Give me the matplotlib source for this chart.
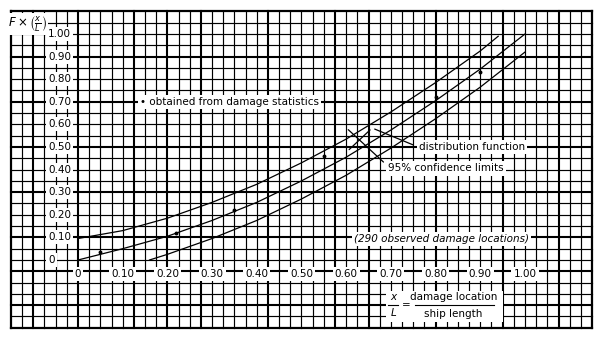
import numpy as np
import matplotlib
matplotlib.use("Agg")
import matplotlib.pyplot as plt

# distribution function
dist_x = [0.0, 0.1, 0.2, 0.3, 0.4, 0.5, 0.6, 0.7, 0.8, 0.9, 1.0]
dist_y = [0.0, 0.05, 0.105, 0.175, 0.255, 0.35, 0.455, 0.575, 0.705, 0.845, 1.0]

# 95% confidence limits
upper_x = [0.0, 0.1, 0.2, 0.3, 0.4, 0.5, 0.6, 0.7, 0.8, 0.9, 0.94]
upper_y = [0.095, 0.13, 0.185, 0.255, 0.335, 0.43, 0.535, 0.655, 0.785, 0.925, 0.99]
lower_x = [0.16, 0.2, 0.3, 0.4, 0.5, 0.6, 0.7, 0.8, 0.9, 1.0]
lower_y = [0.0, 0.025, 0.095, 0.175, 0.27, 0.375, 0.495, 0.625, 0.765, 0.92]

# points obtained from damage statistics
pts_x = [0.05, 0.22, 0.35, 0.55, 0.80, 0.90]
pts_y = [0.035, 0.12, 0.22, 0.46, 0.72, 0.83]

ticks = [0.0, 0.1, 0.2, 0.3, 0.4, 0.5, 0.6, 0.7, 0.8, 0.9, 1.0]
tick_labels = ["0", "0.10", "0.20", "0.30", "0.40", "0.50", "0.60", "0.70", "0.80", "0.90", "1.00"]

plt.rcParams["font.family"] = ["DejaVu Sans"]
fig = plt.figure(figsize=(6.05, 3.39), dpi=100)
ax = fig.add_axes([0, 0, 1, 1])
ax.set_xlim(-0.1745, 1.179)
ax.set_ylim(-0.3496, 1.1504)
ax.axis("off")

# graph paper (scanned look: thin lines, some heavier ones)
gx = np.arange(-6, 47) * 0.025
gy = np.arange(-6, 23) * 0.05
bold_vx = [-0.1, 0.0, 0.125, 0.2, 0.275, 0.425, 0.575, 0.65, 0.8, 0.95, 1.075]
bold_hy = [-0.2, -0.05, 0.1, 0.3, 0.5, 0.7, 0.9]
for i, v in enumerate(gx):
    lw = 1.5 if any(abs(v - b) < 1e-6 for b in bold_vx) else 0.85
    if i == 0 or i == len(gx) - 1:
        lw = 1.6
    ax.plot([v, v], [gy[0], gy[-1]], color="black", lw=lw, zorder=1)
for i, v in enumerate(gy):
    lw = 1.5 if any(abs(v - b) < 1e-6 for b in bold_hy) else 0.85
    if i == 0 or i == len(gy) - 1:
        lw = 1.6
    ax.plot([gx[0], gx[-1]], [v, v], color="black", lw=lw, zorder=1)

# curves
ax.plot(dist_x, dist_y, color="black", lw=0.9, zorder=3)
ax.plot(upper_x, upper_y, color="black", lw=0.9, zorder=3)
ax.plot(lower_x, lower_y, color="black", lw=0.9, zorder=3)
ax.plot(pts_x, pts_y, "o", color="black", ms=1.8, zorder=4)

box = dict(fc="white", ec="none", pad=1.5)
fs = 7.5

for v, s in zip(ticks, tick_labels):
    ax.text(-0.067, v, s, ha="left", va="center", fontsize=fs, bbox=box, zorder=5)
    ax.text(v, -0.062, s, ha="center", va="center", fontsize=fs, bbox=box, zorder=5)

ax.text(-0.114, 1.045, r"$F\times\left(\frac{x}{L}\right)$", ha="center", va="center",
        fontsize=8.5, bbox=dict(fc="white", ec="none", pad=1.0), zorder=5)

ax.text(0.139, 0.70, "\u2022 obtained from damage statistics", ha="left", va="center",
        fontsize=fs, bbox=box, zorder=5)
ax.text(0.762, 0.50, "distribution function", ha="left", va="center",
        fontsize=fs, bbox=box, zorder=5)
ax.text(0.694, 0.405, "95% confidence limits", ha="left", va="center",
        fontsize=fs, bbox=box, zorder=5)
ax.text(0.617, 0.093, "(290 observed damage locations)", ha="left", va="center",
        fontsize=fs, style="italic", bbox=box, zorder=5)

# leader lines
ax.annotate("", xy=(0.60, 0.585), xytext=(0.688, 0.425),
            arrowprops=dict(arrowstyle="-", lw=0.9, color="black"), zorder=4)
ax.annotate("", xy=(0.602, 0.48), xytext=(0.658, 0.584),
            arrowprops=dict(arrowstyle="-", lw=0.9, color="black"), zorder=4)
ax.annotate("", xy=(0.658, 0.584), xytext=(0.755, 0.505),
            arrowprops=dict(arrowstyle="-", lw=0.9, color="black"), zorder=4)

# x/L = damage location / ship length
ax.add_patch(plt.Rectangle((0.69, -0.275), 0.26, 0.14, fc="white", ec="none", zorder=4))
ax.text(0.705, -0.164, "x", ha="center", va="center", fontsize=fs, style="italic", zorder=5)
ax.text(0.705, -0.236, "L", ha="center", va="center", fontsize=fs, style="italic", zorder=5)
ax.plot([0.694, 0.716], [-0.2, -0.2], color="black", lw=0.8, zorder=5)
ax.text(0.734, -0.2, "=", ha="center", va="center", fontsize=fs, zorder=5)
ax.text(0.84, -0.164, "damage location", ha="center", va="center", fontsize=fs, zorder=5)
ax.text(0.84, -0.24, "ship length", ha="center", va="center", fontsize=fs, zorder=5)
ax.plot([0.754, 0.93], [-0.2, -0.2], color="black", lw=0.8, zorder=5)

fig.savefig("out.png", dpi=100)
